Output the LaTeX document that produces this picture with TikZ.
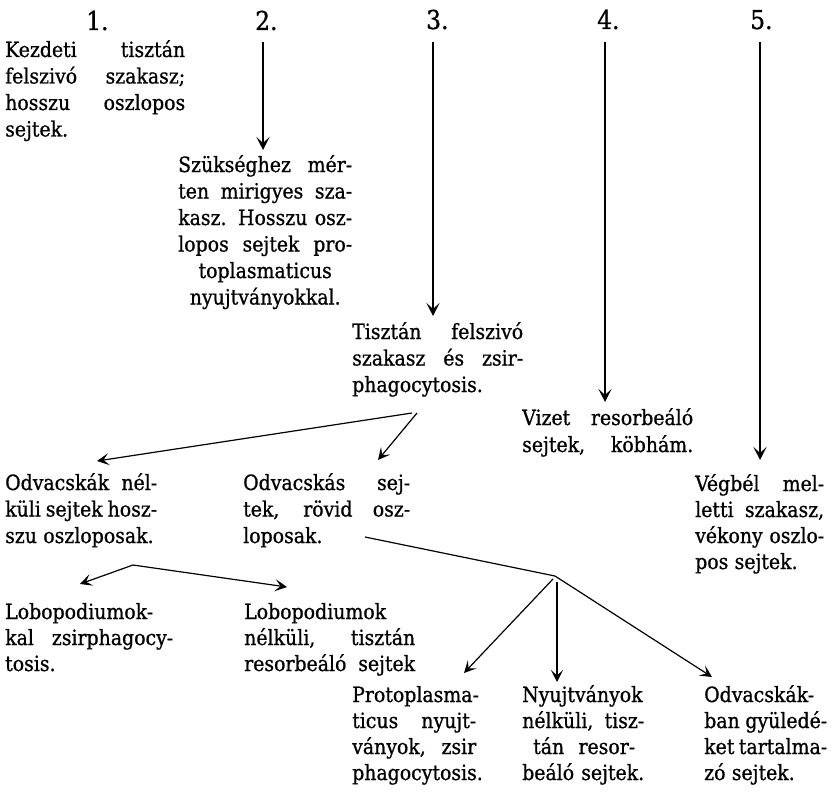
\documentclass[tikz,border=0pt]{standalone}
\usepackage{fontspec}
\setmainfont{DejaVu Serif Condensed}[FakeBold=0.8]
\usetikzlibrary{arrows.meta}
\newdimen\bw
\newcommand\J[1]{\hbox to\bw{#1}}
\newcommand\N[1]{\hbox{#1}}
\newcommand\C[1]{\hbox to\bw{\hfil#1\hfil}}
\newcommand\blk[3][26.5]{\bw=#2pt\relax\spaceskip=.3em plus 6em minus .12em\relax\vtop{\baselineskip=#1pt\relax #3}}
\tikzset{
  body/.style={font={\fontsize{21}{26}\selectfont}, inner sep=0pt, anchor=base west},
  num/.style={font={\fontsize{26}{26}\selectfont}, inner sep=0pt, anchor=base west},
  vline/.style={line width=1.8pt, -{Stealth[length=13pt,width=13pt,inset=6pt]}},
  dline/.style={line width=1.2pt, -{Stealth[length=12pt,width=12pt,inset=5.5pt]}},
  pline/.style={line width=1.2pt},
}
\begin{document}
\begin{tikzpicture}[x=1pt,y=-1pt]
\fill[white] (0,0) rectangle (834,797);
\useasboundingbox (0,0) rectangle (834,797);
% column numbers
\node[num] (n1) at (86,30) {1.};
\node[num] (n2) at (255,30) {2.};
\node[num] (n3) at (426,29) {3.};
\node[num] (n4) at (597,29) {4.};
\node[num] (n5) at (750,29) {5.};
% text blocks
\node[body] (b1) at (5,57) {\blk[26.5]{180}{\J{Kezdeti tisztán}\J{felszivó szakasz;}\J{hosszu oszlopos}\N{sejtek.}}};
\node[body] (b2) at (178,172) {\blk[26.5]{174}{\J{Szükséghez mér-}\J{ten mirigyes sza-}\J{kasz. Hosszu osz-}\J{lopos sejtek pro-}\C{toplasmaticus}\C{nyujtványokkal.}}};
\node[body] (b3) at (352,339) {\blk[26.5]{171}{\J{Tisztán felszivó}\J{szakasz és zsir-}\N{phagocytosis.}}};
\node[body] (b4) at (522,425) {\blk[27]{171}{\J{Vizet resorbeáló}\J{sejtek, köbhám.}}};
\node[body] (b5) at (695,491) {\blk[26]{129}{\J{Végbél mel-}\J{letti szakasz,}\J{vékony oszlo-}\N{pos sejtek.}}};
\node[body] (b6) at (5,490) {\blk[26.5]{152}{\J{Odvacskák nél-}\J{küli sejtek hosz-}\N{szu oszloposak.}}};
\node[body] (b7) at (243,490) {\blk[26.5]{167}{\J{Odvacskás sej-}\J{tek, rövid osz-}\N{loposak.}}};
\node[body] (b8) at (5,619) {\blk[26]{168}{\N{Lobopodiumok-}\J{kal zsirphagocy-}\N{tosis.}}};
\node[body] (b9) at (244,619) {\blk[26]{171}{\N{Lobopodiumok}\J{nélküli, tisztán}\J{resorbeáló sejtek}}};
\node[body] (b10) at (352,702) {\blk[26]{124}{\N{Protoplasma-}\J{ticus nyujt-}\J{ványok, zsir}\N{phagocytosis.}}};
\node[body] (b11) at (522,702) {\blk[26]{122}{\N{Nyujtványok}\J{nélküli, tisz-}\hbox to\bw{\hskip 11pt tán resor-\hskip 9pt}\J{beáló sejtek.}}};
\node[body] (b12) at (704,702) {\blk[26]{123}{\N{Odvacskák-}\J{ban gyüledé-}\J{ket tartalma-}\N{zó sejtek.}}};
% connector end points
\coordinate (v2s) at (263,42);  \coordinate (v2e) at (263,150);
\coordinate (v3s) at (433,42);  \coordinate (v3e) at (433,316);
\coordinate (v4s) at (605,42);  \coordinate (v4e) at (605,402);
\coordinate (v5s) at (760,42);  \coordinate (v5e) at (760,460);
\coordinate (ts1) at (412,413); \coordinate (ts2) at (417,413);
\coordinate (e6) at (97,461);   \coordinate (e7) at (378,460);
\coordinate (oj) at (133,565);
\coordinate (e8) at (80,584);   \coordinate (e9) at (287,587);
\coordinate (os) at (365,537);  \coordinate (bj) at (555,576);
\coordinate (e10) at (464,673); \coordinate (e11) at (557,682); \coordinate (e12) at (712,677);
% connectors
\draw[vline] (v2s) -- (v2e);
\draw[vline] (v3s) -- (v3e);
\draw[vline] (v4s) -- (v4e);
\draw[vline] (v5s) -- (v5e);
\draw[dline] (ts1) -- (e6);
\draw[dline] (ts2) -- (e7);
\draw[dline] (oj) -- (e8);
\draw[dline] (oj) -- (e9);
\draw[pline] (os) -- (bj);
\draw[dline] ([shift={(-2,3)}]bj) -- (e10);
\draw[dline] ([shift={(2,6)}]bj) -- (e11);
\draw[dline] (bj) -- (e12);
\end{tikzpicture}
\end{document}
